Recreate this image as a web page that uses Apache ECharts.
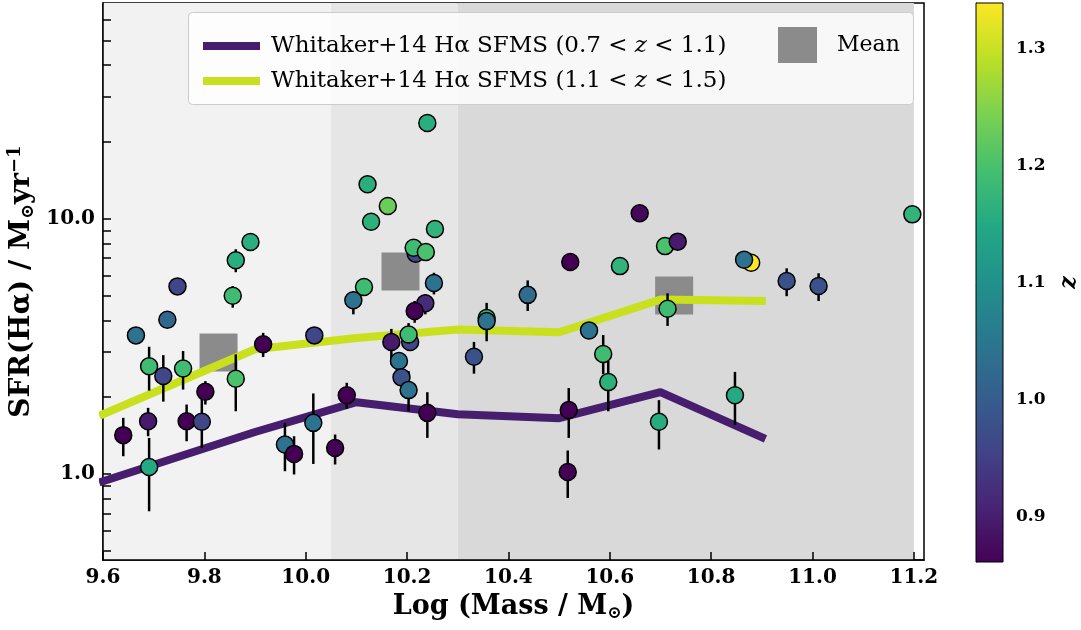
<!DOCTYPE html>
<html><head><meta charset="utf-8">
<script src="https://cdn.jsdelivr.net/npm/echarts@6/dist/echarts.min.js"></script>
<style>html,body{margin:0;padding:0;background:#fff}#c{width:1081px;height:630px}</style>
</head><body><div id="c"></div>
<script>
// ---------- data ----------
const xTicks = [9.6, 9.8, 10.0, 10.2, 10.4, 10.6, 10.8, 11.0, 11.2];
const yMinorTicks = [0.5,0.6,0.7,0.8,0.9,1,2,3,4,5,6,7,8,9,10,20,30,40,50,60];
const yLabelTicks = [1, 10];
const cbTicks = [0.9, 1.0, 1.1, 1.2, 1.3];
const zMin = 0.861, zMax = 1.339;

const bandEdges = [9.6, 10.05, 10.3, 11.2];
const bandColors = ['#f2f2f2', '#e6e6e6', '#d9d9d9'];

const sfmsMass = [9.6, 9.9, 10.1, 10.3, 10.5, 10.7, 10.9];
const sfmsLowZ = [0.936, 1.46, 1.91, 1.714, 1.654, 2.091, 1.393];
const sfmsHighZ = [1.714, 3.08, 3.41, 3.68, 3.59, 4.82, 4.76];

const meanMass = [9.828, 10.187, 10.727];
const meanSfr = [2.99, 6.21, 5.0];

const galMass = [9.665,9.727,9.747,9.891,9.862,9.856,9.691,9.719,9.758,9.862,9.916,10.017,9.802,9.640,9.689,9.765,9.795,9.691,9.959,9.977,10.015,10.058,10.081,
  10.094,10.115,10.240,10.122,10.162,10.129,10.255,10.217,10.213,10.237,10.253,10.236,10.215,10.206,10.203,10.169,10.184,10.189,10.203,10.240,
  10.357,10.357,10.332,10.438,10.522,10.559,10.587,10.597,10.519,10.517,10.620,10.659,10.709,10.734,10.714,10.697,10.847,10.879,10.865,10.949,11.012,11.197];
const galSfr = [3.49,4.02,5.43,8.10,6.87,4.99,2.64,2.42,2.59,2.36,3.22,3.49,2.10,1.419,1.609,1.609,1.60,1.065,1.304,1.198,1.585,1.264,2.035,
  4.79,5.40,23.7,13.64,11.21,9.73,9.11,7.29,7.70,7.40,5.60,4.66,4.35,3.29,3.52,3.29,2.77,2.39,2.13,1.735,
  4.08,3.97,2.88,5.03,6.77,3.65,2.95,2.29,1.78,1.018,6.52,10.50,7.81,8.13,4.44,1.60,2.035,6.72,6.91,5.70,5.45,10.40];
const galZ = [1.04,1.02,0.96,1.16,1.16,1.19,1.19,0.96,1.19,1.20,0.861,0.96,0.861,0.861,0.895,0.861,0.96,1.15,1.04,0.861,1.04,0.861,0.861,
  1.04,1.19,1.16,1.16,1.23,1.165,1.17,0.96,1.19,1.20,1.04,0.92,0.861,0.96,1.19,0.895,1.04,0.98,1.04,0.861,
  1.19,1.04,0.98,1.03,0.861,1.04,1.19,1.165,0.861,0.861,1.17,0.87,1.20,0.895,1.19,1.155,1.15,1.339,1.04,0.98,0.98,1.17];
const galErrLo = [null,null,null,null,6.17,4.48,2.12,1.92,2.14,1.76,2.87,null,1.87,1.173,1.405,1.343,1.264,0.714,1.025,0.995,1.094,1.089,1.798,
  4.22,5.10,null,null,null,null,null,null,null,null,5.05,4.22,3.91,null,3.15,2.69,null,null,1.76,1.384,
  null,3.31,2.47,4.35,null,null,2.46,1.76,1.384,0.805,null,null,null,null,3.80,1.247,1.553,6.30,null,4.97,4.76,null];
const galErrHi = [null,null,null,null,7.59,5.45,3.15,2.92,3.03,2.94,3.57,null,2.31,1.658,1.815,1.87,1.986,1.384,1.585,1.405,2.067,1.427,2.275,
  5.21,5.75,null,null,null,null,null,null,null,null,6.14,5.05,4.76,null,3.90,3.70,null,null,2.53,2.09,
  null,4.68,3.29,5.73,null,null,3.50,2.77,2.17,1.235,null,null,null,null,5.10,1.945,2.51,7.10,null,6.39,6.11,null];

const viridis = ['#440154','#482475','#414487','#355f8d','#2a788e','#21918c','#22a884','#44bf70','#7ad151','#bddf26','#fde725'];

// ---------- build ----------
const SERIF = '"DejaVu Serif", serif';
const pts = galMass.map((m,i)=>[m, galSfr[i], galZ[i]]);
const errs = [];
galMass.forEach((m,i)=>{ if (galErrLo[i] != null) errs.push([m, galErrLo[i], galErrHi[i]]); });
const bands = bandColors.map((c,i)=>[bandEdges[i], bandEdges[i+1], i]);

const chart = echarts.init(document.getElementById('c'));
chart.setOption({
  animation: false,
  backgroundColor: '#fff',
  grid: [
    {left: 103, right: 157, top: 3, bottom: 70, show: true, backgroundColor: '#fff', borderColor: '#000', borderWidth: 1.5,
     containLabel: false, outerBoundsMode: 'none'},
    {left: 976, width: 27, top: 3, bottom: 68, containLabel: false, outerBoundsMode: 'none'}
  ],
  xAxis: [
    {type: 'value', gridIndex: 0, min: 9.6, max: 11.22,
     axisLine: {lineStyle: {color: '#000', width: 1.5}},
     axisTick: {inside: true, length: 8, lineStyle: {color: '#000', width: 1.5}, customValues: xTicks},
     axisLabel: {customValues: xTicks, formatter: v => v.toFixed(1), color: '#000', fontFamily: SERIF, fontWeight: 'bold', fontSize: 20, margin: 8},
     splitLine: {show: false},
     name: 'Log (Mass / M{sub|⊙})', nameLocation: 'middle', nameGap: 32, nameMoveOverlap: false,
     nameTextStyle: {color: '#000', fontFamily: SERIF, fontWeight: 'bold', fontSize: 27, verticalAlign: 'top',
       rich: {sub: {fontFamily: SERIF, fontWeight: 'bold', fontSize: 17, verticalAlign: 'bottom', padding: [13, 0, 0, 0], color: '#000'}}}},
    {type: 'value', gridIndex: 1, min: 0, max: 1, show: false}
  ],
  yAxis: [
    {type: 'log', logBase: 10, gridIndex: 0, min: 0.46, max: 70,
     axisLine: {lineStyle: {color: '#000', width: 1.5}},
     axisTick: {inside: true, length: 8, lineStyle: {color: '#000', width: 1.5}, customValues: yMinorTicks},
     axisLabel: {customValues: yLabelTicks, formatter: v => Number(v).toFixed(1), color: '#000', fontFamily: SERIF, fontWeight: 'bold', fontSize: 20, margin: 8},
     splitLine: {show: false}, minorTick: {show: false},
     name: 'SFR(Hα) / M{sub|⊙}yr{sup|−1}', nameLocation: 'middle', nameGap: 66, nameMoveOverlap: false,
     nameTextStyle: {color: '#000', fontFamily: SERIF, fontWeight: 'bold', fontSize: 28,
       rich: {sub: {fontFamily: SERIF, fontWeight: 'bold', fontSize: 18, verticalAlign: 'bottom', padding: [13,0,0,0], color: '#000'},
              sup: {fontFamily: SERIF, fontWeight: 'bold', fontSize: 18, verticalAlign: 'top', padding: [0,0,13,0], color: '#000'}}}},
    {type: 'value', gridIndex: 1, min: zMin, max: zMax, position: 'right',
     axisLine: {show: true, lineStyle: {color: '#000', width: 1}},
     axisTick: {show: true, inside: false, length: 5, lineStyle: {color: '#000', width: 1}, customValues: cbTicks},
     axisLabel: {customValues: cbTicks, formatter: v => Number(v).toFixed(1), color: '#000', fontFamily: SERIF, fontWeight: 'bold', fontSize: 17, margin: 13},
     splitLine: {show: false},
     name: 'z', nameLocation: 'middle', nameGap: 55, nameRotate: 90, nameMoveOverlap: false,
     nameTextStyle: {color: '#000', fontFamily: SERIF, fontStyle: 'italic', fontWeight: 'bold', fontSize: 22}}
  ],
  visualMap: {type: 'continuous', show: false, seriesIndex: 5, dimension: 2, min: zMin, max: zMax, inRange: {color: viridis}},
  legend: [
    {left: 198, top: 28, orient: 'vertical', itemWidth: 57, itemHeight: 8, itemGap: 9, selectedMode: false,
     data: [{name: 'Whitaker+14 Hα SFMS (0.7 < z < 1.1)', icon: 'rect'}, {name: 'Whitaker+14 Hα SFMS (1.1 < z < 1.5)', icon: 'rect'}],
     formatter: n => n.replace(' z ', ' {it|z} '),
     textStyle: {color: '#000', fontFamily: SERIF, fontSize: 23, lineHeight: 26, padding: [0,0,0,6],
       rich: {it: {fontFamily: SERIF, fontStyle: 'italic', fontSize: 23, lineHeight: 26, color: '#000'}}}, z: 10},
    {left: 773, top: 22, itemWidth: 39, itemHeight: 36, selectedMode: false,
     data: [{name: 'Mean', icon: 'rect'}],
     textStyle: {color: '#000', fontFamily: SERIF, fontSize: 22, padding: [0,0,0,15]}, z: 10}
  ],
  graphic: [{type: 'rect', left: 188, top: 12, shape: {width: 725, height: 92, r: 4},
    style: {fill: 'rgba(255,255,255,0.8)', stroke: '#cccccc', lineWidth: 1}, z: 9}],
  series: [
    {type: 'custom', xAxisIndex: 0, yAxisIndex: 0, z: 0, silent: true, data: bands,
     renderItem: (params, api) => {
       const cs = params.coordSys;
       const x0 = api.coord([api.value(0), 1])[0], x1 = api.coord([api.value(1), 1])[0];
       return {type: 'rect', shape: {x: x0, y: cs.y, width: x1 - x0, height: cs.height},
         style: {fill: bandColors[api.value(2)]}};
     }},
    {type: 'scatter', name: 'Mean', xAxisIndex: 0, yAxisIndex: 0, z: 2, symbol: 'rect', symbolSize: 38,
     itemStyle: {color: '#8b8b8b', opacity: 1}, data: meanMass.map((m,i)=>[m, meanSfr[i]])},
    {type: 'line', name: 'Whitaker+14 Hα SFMS (0.7 < z < 1.1)', z: 3, showSymbol: false, symbol: 'none',
     color: '#471d6e', lineStyle: {color: '#471d6e', width: 8, cap: 'square'}, data: sfmsMass.map((m,i)=>[m, sfmsLowZ[i]])},
    {type: 'line', name: 'Whitaker+14 Hα SFMS (1.1 < z < 1.5)', z: 3, showSymbol: false, symbol: 'none',
     color: '#c9e01f', lineStyle: {color: '#c9e01f', width: 8, cap: 'square'}, data: sfmsMass.map((m,i)=>[m, sfmsHighZ[i]])},
    {type: 'custom', xAxisIndex: 0, yAxisIndex: 0, z: 4, silent: true, data: errs,
     renderItem: (params, api) => {
       const a = api.coord([api.value(0), api.value(1)]), b = api.coord([api.value(0), api.value(2)]);
       return {type: 'line', shape: {x1: a[0], y1: a[1], x2: b[0], y2: b[1]}, style: {stroke: '#000', lineWidth: 2.5}};
     }},
    {type: 'scatter', xAxisIndex: 0, yAxisIndex: 0, z: 5, symbol: 'circle', symbolSize: 17,
     itemStyle: {borderColor: '#000', borderWidth: 1.5, opacity: 1}, data: pts},
    {type: 'custom', xAxisIndex: 1, yAxisIndex: 1, z: 2, silent: true, data: [[0, zMin]],
     renderItem: (params, api) => {
       const p0 = api.coord([0, zMax]), p1 = api.coord([1, zMin]);
       const stops = viridis.map((c,i)=>({offset: i/(viridis.length-1), color: c}));
       return {type: 'rect', shape: {x: p0[0], y: p0[1], width: p1[0]-p0[0], height: p1[1]-p0[1]},
         style: {fill: new echarts.graphic.LinearGradient(0, 1, 0, 0, stops), stroke: '#000', lineWidth: 1}};
     }}
  ]
});
</script></body></html>
